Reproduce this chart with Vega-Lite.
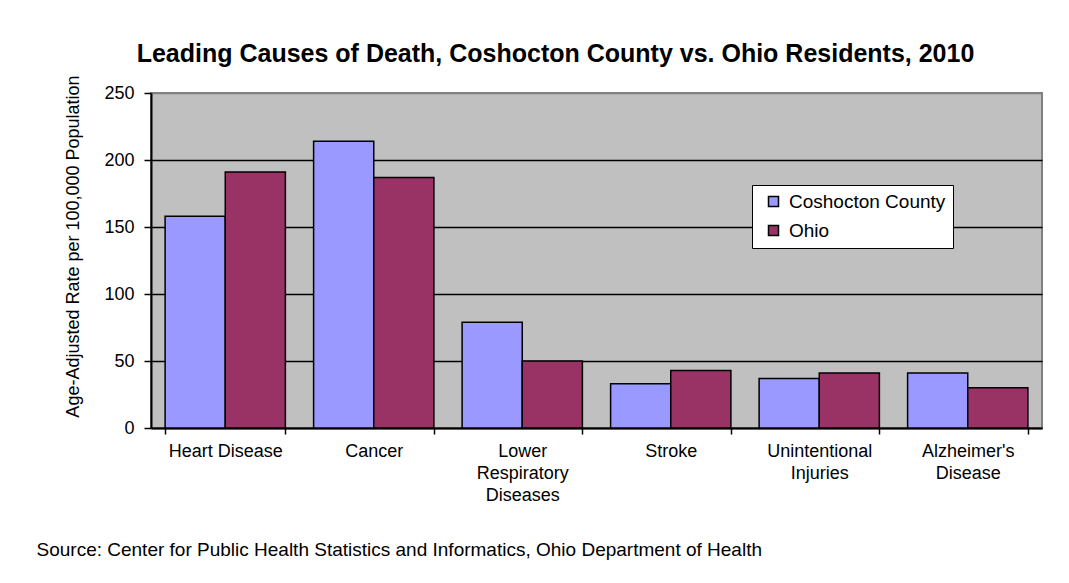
{
  "$schema": "https://vega.github.io/schema/vega-lite/v6.json",
  "width": 891,
  "height": 335,
  "autosize": {"type": "none"},
  "padding": {"left": 151, "top": 93, "right": 27, "bottom": 155},
  "background": "white",
  "title": {
    "text": "Leading Causes of Death, Coshocton County vs. Ohio Residents, 2010",
    "font": "Liberation Sans",
    "fontSize": 25,
    "fontWeight": "bold",
    "color": "black",
    "anchor": "middle",
    "dx": -41,
    "offset": 8
  },
  "data": {
    "values": [
      {"cause": "Heart Disease", "series": "Coshocton County", "value": 158},
      {"cause": "Heart Disease", "series": "Ohio", "value": 191},
      {"cause": "Cancer", "series": "Coshocton County", "value": 214},
      {"cause": "Cancer", "series": "Ohio", "value": 187},
      {"cause": "Lower Respiratory Diseases", "series": "Coshocton County", "value": 79},
      {"cause": "Lower Respiratory Diseases", "series": "Ohio", "value": 50},
      {"cause": "Stroke", "series": "Coshocton County", "value": 33},
      {"cause": "Stroke", "series": "Ohio", "value": 43},
      {"cause": "Unintentional Injuries", "series": "Coshocton County", "value": 37},
      {"cause": "Unintentional Injuries", "series": "Ohio", "value": 41},
      {"cause": "Alzheimer's Disease", "series": "Coshocton County", "value": 41},
      {"cause": "Alzheimer's Disease", "series": "Ohio", "value": 30}
    ]
  },
  "mark": {"type": "bar", "stroke": "black", "strokeWidth": 1.5},
  "encoding": {
    "x": {
      "field": "cause",
      "type": "nominal",
      "sort": null,
      "scale": {"paddingInner": 0.19, "paddingOuter": 0.095},
      "axis": {
        "title": "Source: Center for Public Health Statistics and Informatics, Ohio Department of Health",
        "titleFont": "Liberation Sans",
        "titleFontSize": 19,
        "titleFontWeight": "normal",
        "titleColor": "black",
        "titleAlign": "left",
        "titleBaseline": "middle",
        "titleX": -115,
        "titleY": 121,
        "labelAngle": 0,
        "labelFont": "Liberation Sans",
        "labelFontSize": 18,
        "labelColor": "black",
        "labelPadding": 8,
        "labelLineHeight": 22,
        "labelExpr": "datum.label == 'Heart Disease' ? datum.label : split(datum.label, ' ')",
        "tickBand": "extent",
        "tickSize": 6,
        "tickColor": "black",
        "tickWidth": 1.5,
        "domainColor": "black",
        "domainWidth": 2,
        "grid": false
      }
    },
    "xOffset": {
      "field": "series",
      "sort": ["Coshocton County", "Ohio"],
      "scale": {"paddingInner": 0, "paddingOuter": 0}
    },
    "y": {
      "field": "value",
      "type": "quantitative",
      "scale": {"domain": [0, 250], "nice": false},
      "axis": {
        "values": [0, 50, 100, 150, 200, 250],
        "title": "Age-Adjusted Rate per 100,000 Population",
        "titleFont": "Liberation Sans",
        "titleFontSize": 18,
        "titleFontWeight": "normal",
        "titleColor": "black",
        "titlePadding": 21,
        "titleY": 153,
        "labelFont": "Liberation Sans",
        "labelFontSize": 18,
        "labelColor": "black",
        "labelPadding": 10,
        "tickSize": 7,
        "tickColor": "black",
        "tickWidth": 1.5,
        "domainColor": "black",
        "domainWidth": 2,
        "grid": true,
        "gridColor": {"condition": {"test": "datum.value === 250", "value": "#808080"}, "value": "black"},
        "gridWidth": 1.5
      }
    },
    "color": {
      "field": "series",
      "type": "nominal",
      "scale": {"domain": ["Coshocton County", "Ohio"], "range": ["#9999FF", "#993366"]},
      "legend": {
        "title": null,
        "orient": "none",
        "legendX": 601,
        "legendY": 92,
        "fillColor": "white",
        "strokeColor": "black",
        "padding": 7,
        "symbolType": "square",
        "symbolSize": 100,
        "symbolStrokeColor": "black",
        "symbolStrokeWidth": 1.5,
        "symbolOffset": 5,
        "labelFont": "Liberation Sans",
        "labelFontSize": 19,
        "labelColor": "black",
        "labelOffset": 6,
        "rowPadding": 9
      }
    }
  },
  "config": {
    "view": {"fill": "#C0C0C0", "stroke": "#808080", "strokeWidth": 2},
    "font": "Liberation Sans"
  }
}
